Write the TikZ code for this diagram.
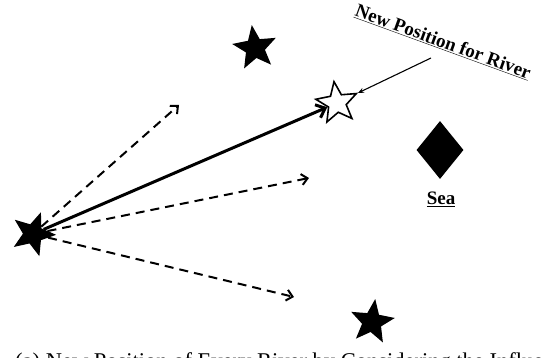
\documentclass[tikz,border=0pt]{standalone}
\usepackage{fontspec}
\setmainfont{Liberation Serif}
\usetikzlibrary{positioning, shapes.geometric, arrows.meta}

\begin{document}
\begin{tikzpicture}[x=1pt, y=-1pt,
    river/.style={star, star points=5, star point ratio=2.3, draw, line width=1.2pt, inner sep=0pt, minimum size=43pt},
    oldriver/.style={river, fill=black},
    newriver/.style={river, fill=white, line width=1.6pt},
    label/.style={font=\fontsize{19}{23}\selectfont\bfseries},
    move/.style={-{Straight Barb[length=8pt, width=14pt]}, line width=3pt},
    trial/.style={-{Straight Barb[length=6pt, width=11pt]}, line width=2pt, dash pattern=on 9pt off 6pt},
    pointer/.style={-{Stealth[length=6pt, width=5pt]}, line width=1.1pt}
]
\useasboundingbox (0,0) rectangle (542,358);

% Rivers and sea
\node[oldriver, rotate=-20] (origin) at (33,234) {};
\node[oldriver, rotate=8] (top) at (255,48) {};
\node[oldriver, rotate=-8] (bottom) at (372,322) {};
\node[newriver, rotate=8] (newpos) at (337,103) {};
\node[diamond, fill=black, inner sep=0pt, minimum width=47pt, minimum height=58pt] (sea) at (440,150) {};
\node[label] (sealabel) at (441,199) {\underline{Sea}};
\node[label, rotate=-20] (note) at (443,42) {\underline{New Position for River}};

% Ends of the trial moves
\coordinate (t1) at (179,105);
\coordinate (t2) at (309,178);
\coordinate (t3) at (294,297);
\coordinate (tail) at (431,58);

% Moves
\draw[trial] (origin) -- (t1);
\draw[trial] (origin) -- (t2);
\draw[trial] (origin) -- (t3);
\draw[move] (origin) -- (newpos);
\draw[pointer] (tail) -- (newpos);

% Caption (cut at the bottom)
\node[font=\fontsize{22.5}{27}\selectfont, anchor=base west, inner sep=0pt] (caption) at (15,369) {(a) New Position of Every River by Considering the Influence};

\end{tikzpicture}
\end{document}
